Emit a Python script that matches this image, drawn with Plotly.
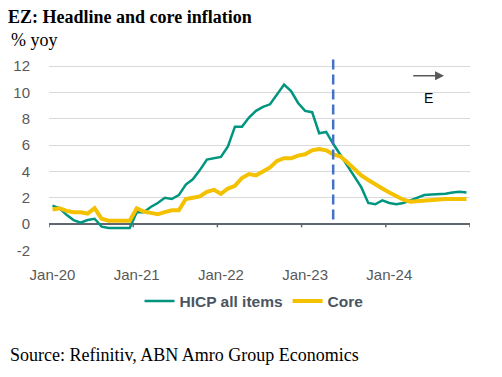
import plotly.graph_objects as go

months = [f"{m}-{y}" for y in range(2020, 2025) for m in range(1, 13)]
month_idx = list(range(len(months)))

hicp = [1.4, 1.2, 0.7, 0.3, 0.1, 0.3, 0.4, -0.2, -0.3, -0.3, -0.3, -0.3,
        0.9, 0.9, 1.3, 1.6, 2.0, 1.9, 2.2, 3.0, 3.4, 4.1, 4.9, 5.0,
        5.1, 5.9, 7.4, 7.4, 8.1, 8.6, 8.9, 9.1, 9.9, 10.6, 10.1, 9.2,
        8.6, 8.5, 6.9, 7.0, 6.1, 5.3, 4.5, 3.7, 2.8, 1.6, 1.5, 1.8,
        1.6, 1.5, 1.6, 1.8, 2.0, 2.2, 2.25, 2.25, 2.3, 2.4, 2.45, 2.4]

core = [1.1, 1.2, 1.0, 0.9, 0.9, 0.8, 1.2, 0.4, 0.25, 0.25, 0.3, 0.25,
        1.2, 0.95, 0.85, 0.75, 0.9, 1.05, 1.05, 1.9, 2.0, 2.1, 2.45, 2.6,
        2.3, 2.7, 2.9, 3.5, 3.8, 3.7, 4.0, 4.3, 4.8, 5.0, 5.0, 5.2,
        5.3, 5.6, 5.7, 5.6, 5.3, 5.15, 4.7, 4.2, 3.7, 3.35, 3.0, 2.7,
        2.4, 2.1, 1.85, 1.7, 1.75, 1.8, 1.85, 1.88, 1.9, 1.9, 1.92, 1.9]

x_tick_vals = [0, 12, 24, 36, 48]
x_tick_text = ["Jan-20", "Jan-21", "Jan-22", "Jan-23", "Jan-24"]
y_tick_vals = [-2, 0, 2, 4, 6, 8, 10, 12]
y_tick_text = ["-2", "0", "2", "4", "6", "8", "10", "12"]
forecast_start = 40  # May-23

GREEN = "#00957F"
YELLOW = "#F4C100"
GREY_TXT = "#595959"

fig = go.Figure()
fig.add_trace(go.Scatter(x=month_idx, y=hicp, mode="lines", name="HICP all items",
                         line=dict(color=GREEN, width=2.5)))
fig.add_trace(go.Scatter(x=month_idx, y=core, mode="lines", name="Core",
                         line=dict(color=YELLOW, width=4)))

shapes = []
# category boundary tick marks on the zero axis line
for b in [v - 0.5 for v in x_tick_vals] + [len(months) - 0.5]:
    shapes.append(dict(type="line", xref="x", yref="y", x0=b, x1=b, y0=0, y1=-0.25,
                       line=dict(color="#5F6670", width=1.5), layer="above"))
# forecast divider
shapes.append(dict(type="line", xref="x", yref="y", x0=forecast_start, x1=forecast_start,
                   y0=0.35, y1=12.85, line=dict(color="#4472C4", width=2.5, dash="10px,5px"),
                   layer="above"))

annotations = [
    dict(text="% yoy", xref="paper", yref="paper", x=-0.094, y=1.125, xanchor="left",
         yanchor="top", showarrow=False,
         font=dict(family="Liberation Serif", size=18, color="#000000")),
    dict(text="Source: Refinitiv, ABN Amro Group Economics", xref="paper", yref="paper",
         x=-0.0974, y=-0.5276, xanchor="left", yanchor="middle", showarrow=False,
         font=dict(family="Liberation Serif", size=18, color="#000000")),
    dict(text="", x=55.8, y=11.27, ax=51.2, ay=11.27, xref="x", yref="y", axref="x",
         ayref="y", showarrow=True, arrowhead=2, arrowsize=1.2, arrowwidth=1.5,
         arrowcolor=GREY_TXT),
    dict(text="E", x=53.6, y=9.56, xref="x", yref="y", showarrow=False,
         font=dict(family="Liberation Sans", size=14, color="#000000")),
]

fig.update_layout(
    width=494, height=369,
    margin=dict(l=41, r=32, t=45, b=126),
    paper_bgcolor="white", plot_bgcolor="white",
    title=dict(text="<b>EZ: Headline and core inflation</b>", x=0.0, xref="container",
               xanchor="left", y=0.994, yref="container", yanchor="top",
               pad=dict(t=0, l=0, b=0, r=0),
               font=dict(family="Liberation Serif", size=18, color="#000000")),
    showlegend=True,
    legend=dict(orientation="h", x=0.487, xanchor="center", xref="paper",
                y=0.2046, yanchor="middle", yref="container",
                font=dict(family="Liberation Sans", size=15.5, color="#4A5561", weight="bold"),
                itemwidth=30, tracegroupgap=0, bgcolor="rgba(0,0,0,0)"),
    xaxis=dict(range=[-0.5, len(months) - 0.5], tickmode="array", tickvals=x_tick_vals,
               ticktext=x_tick_text, showgrid=False, zeroline=False, showline=False,
               ticks="", ticklabelstandoff=13, automargin=False,
               tickfont=dict(family="Liberation Sans", size=15, color=GREY_TXT)),
    yaxis=dict(range=[-2.05, 13], tickmode="array", tickvals=y_tick_vals,
               ticktext=y_tick_text,
               showgrid=True, gridcolor="#D9D9D9", gridwidth=1,
               zeroline=True, zerolinecolor="#5F6670", zerolinewidth=2,
               showline=False, ticks="", ticklabelstandoff=18, automargin=False,
               tickfont=dict(family="Liberation Sans", size=15, color=GREY_TXT)),
    shapes=shapes,
    annotations=annotations,
)

fig.write_html("out.html")
